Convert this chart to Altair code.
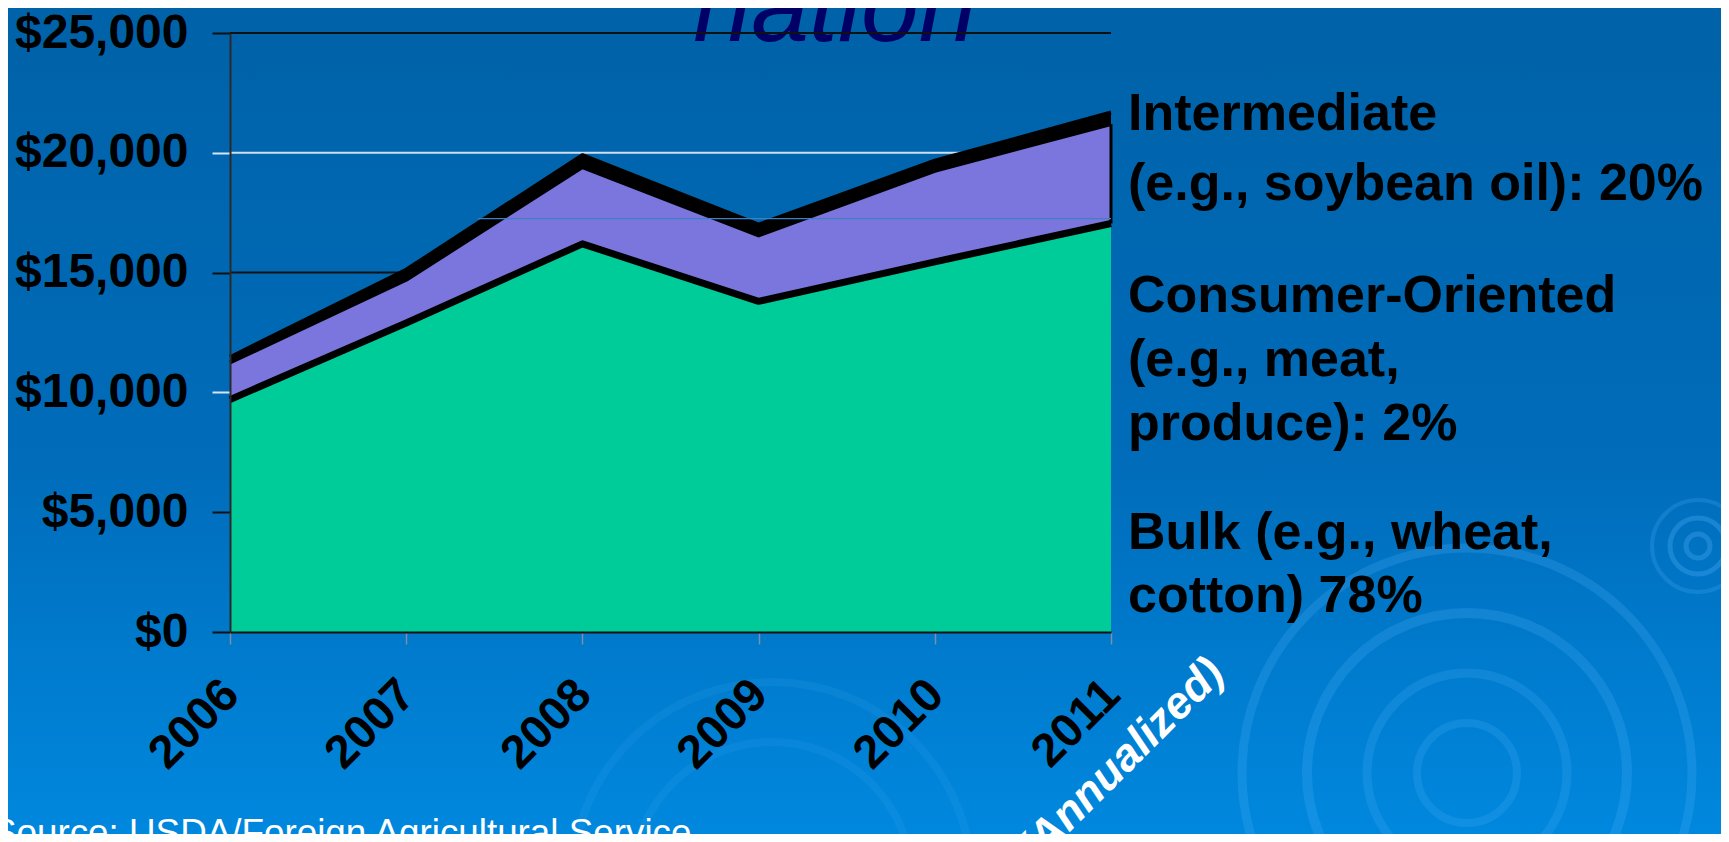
import altair as alt
import pandas as pd

# ---------------- data ----------------
years = ["2006", "2007", "2008", "2009", "2010", "2011"]
bulk = [9700, 12900, 16200, 13800, 15450, 17050]
intermediate = [1550, 1800, 3200, 2750, 3800, 4150]
consumer = [220, 420, 500, 450, 420, 480]
series_names = ["Bulk", "Intermediate", "Consumer-Oriented"]
y_ticks = [0, 5000, 10000, 15000, 20000, 25000]
artifact_level = [17250]

label_intermediate = "Intermediate\n(e.g., soybean oil): 20%"
label_consumer = "Consumer-Oriented\n(e.g., meat,\nproduce): 2%"
label_bulk = "Bulk (e.g., wheat,\ncotton) 78%"
title_text = "nation"
source_text = "Source: USDA/Foreign Agricultural Service"
note_year = "2011"
note_text = "(Annualized)"

rows = []
for i, yr in enumerate(years):
    for rank, vals in enumerate([bulk, intermediate, consumer]):
        rows.append({"year": yr, "series": series_names[rank], "rank": rank, "value": vals[i]})
df = pd.DataFrame(rows)

# ---------------- layout ----------------
W, H = 881, 599
PL, PT = 222, 25
PR = 1713 - PL - W
PB = 826 - PT - H
FONT = "Liberation Sans"

yscale = alt.Scale(domain=[0, 25000], nice=False, zero=True)
xscale = alt.Scale(type="point", padding=0)

light_test = "datum.value === 10000 || datum.value === 20000"
y_axis = alt.Axis(
    title=None, values=y_ticks, format="$,.0f", grid=False, zindex=1,
    labelFontSize=48, labelFontWeight="bold", labelFont=FONT, labelColor="black",
    labelPadding=24, labelOverlap=False,
    tickSize=18, tickWidth=2,
    tickColor={"condition": {"test": light_test, "value": "#d6e4f4"}, "value": "#111111"},
    domainColor="#2a2a2a", domainWidth=2,
)
x_axis = alt.Axis(
    title=None, grid=False, zindex=1, labelAngle=315, labelAlign="right",
    labelBaseline="middle", labelFontSize=47, labelFontWeight="bold", labelFont=FONT,
    labelColor="black", labelPadding=43, labelOffset=1, labelOverlap=False,
    tickSize=12, tickWidth=1.5, tickColor="#7d8fa8",
    domainColor="#111111", domainWidth=2,
)

X = alt.X("year:O", scale=xscale, axis=x_axis, sort=years)

one = alt.Data(values=[{}])

# background gradient
bg = alt.Chart(one).mark_rect(
    color=alt.LinearGradient(
        gradient="linear", x1=0, y1=0, x2=0, y2=1,
        stops=[alt.GradientStop(color="#0062a8", offset=0),
               alt.GradientStop(color="#006cba", offset=0.55),
               alt.GradientStop(color="#0088de", offset=1)],
    )
).encode(x=alt.value(-PL), x2=alt.value(W + PR), y=alt.value(-PT), y2=alt.value(H + PB))

# decorative rings
rings = []
for cx, cy, r, sw, op in [
    (1237, 740, 225, 9, 0.2), (1237, 740, 160, 10, 0.2), (1237, 740, 100, 9, 0.18),
    (1237, 740, 50, 8, 0.18),
    (1468, 513, 12, 5, 0.28), (1468, 513, 28, 5, 0.28), (1468, 513, 46, 4, 0.2),
    (542, 849, 200, 8, 0.1), (542, 849, 140, 8, 0.1),
]:
    rings.append(
        alt.Chart(one).mark_point(shape="circle", filled=False, stroke="#5ab8ff",
                                  strokeWidth=sw, opacity=op, size=(2 * r) ** 2)
        .encode(x=alt.value(cx), y=alt.value(cy))
    )

# partial title
title = alt.Chart(pd.DataFrame({"t": [title_text]})).mark_text(
    font=FONT, fontSize=104, fontStyle="italic", color="#000066",
    align="center", baseline="alphabetic"
).encode(text="t:N", x=alt.value(605), y=alt.value(8))

# gridlines (behind areas)
grid = alt.Chart(pd.DataFrame({"g": y_ticks})).mark_rule(strokeWidth=2).encode(
    y=alt.Y("g:Q", scale=yscale, axis=y_axis),
    color=alt.condition("datum.g === 10000 || datum.g === 20000",
                        alt.value("#cfe0f2"), alt.value("#111111")),
)

base = alt.Chart(df).transform_stack(
    stack="value", groupby=["year"], as_=["y0", "y1"],
    sort=[alt.SortField("rank", order="ascending")],
)

areas = base.mark_area(opacity=1).encode(
    x=X,
    y=alt.Y("y1:Q", scale=yscale, axis=y_axis),
    y2="y0:Q",
    color=alt.Color("series:N", scale=alt.Scale(domain=series_names,
                    range=["#00cc99", "#7b76dd", "#000000"]), legend=None),
    order=alt.Order("rank:Q"),
)

line_bulk = base.transform_filter("datum.rank === 0").mark_line(
    color="black", strokeWidth=7, strokeJoin="round"
).encode(x=X, y=alt.Y("y1:Q", scale=yscale, axis=y_axis))

line_upper = base.transform_filter("datum.rank > 0").mark_line(
    color="black", strokeWidth=4, strokeJoin="round"
).encode(x=X, y=alt.Y("y1:Q", scale=yscale, axis=y_axis), detail="series:N")

# black edge on the right side of the purple band
edge = base.transform_filter(f"datum.rank === 1 && datum.year === '{note_year}'").mark_rule(
    color="black", strokeWidth=3
).encode(x=X, y=alt.Y("y1:Q", scale=yscale, axis=y_axis), y2="y0:Q")

artifact = alt.Chart(pd.DataFrame({"a": artifact_level})).mark_rule(
    color="#3d80c4", strokeWidth=1.3
).encode(y=alt.Y("a:Q", scale=yscale, axis=y_axis), x=alt.value(248), x2=alt.value(W))

def block(text, ypos, lh):
    return alt.Chart(pd.DataFrame({"t": [text]})).mark_text(
        font=FONT, fontSize=52, fontWeight="bold", color="black",
        align="left", baseline="alphabetic", lineBreak="\n", lineHeight=lh,
    ).encode(text="t:N", x=alt.value(898), y=alt.value(ypos))

t1 = block(label_intermediate, 97, 70)
t2 = block(label_consumer, 279, 64)
t3 = block(label_bulk, 516, 63)

note = alt.Chart(pd.DataFrame({"year": [note_year], "t": [note_text]})).mark_text(
    font=FONT, fontSize=45, fontWeight="bold", fontStyle="italic", color="white",
    align="center", baseline="middle", angle=315, dx=14,
).encode(x=X, y=alt.value(738), text="t:N")

source = alt.Chart(pd.DataFrame({"t": [source_text]})).mark_text(
    font=FONT, fontSize=36.8, color="white", align="left", baseline="alphabetic"
).encode(text="t:N", x=alt.value(-238), y=alt.value(812))

chart = alt.layer(
    bg, *rings, title, grid, areas, line_bulk, line_upper, edge, artifact,
    t1, t2, t3, note, source,
).properties(
    width=W, height=H,
    padding={"left": PL, "top": PT, "right": PR, "bottom": PB},
    autosize=alt.AutoSizeParams(type="none"),
).configure_view(strokeWidth=0).configure(background="#0070c0")

chart.save("out.html", embed_options={"renderer": "svg", "actions": False})
